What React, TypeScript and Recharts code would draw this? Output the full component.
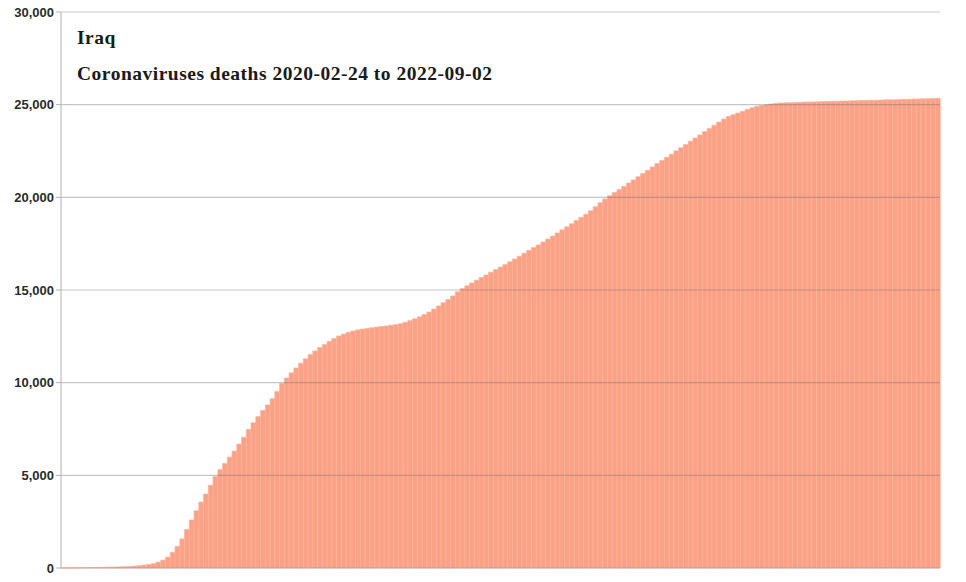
import { BarChart, Bar, XAxis, YAxis, ReferenceLine } from "recharts";

const START = "2020-02-24";
const END = "2022-09-02";
const COUNTRY = "Iraq";
const STEP_DAYS = 5;

// cumulative deaths, one value every 5 days from START
const deaths = [
  1, 4, 7, 10, 14, 18, 22, 27, 32, 39,
  46, 53, 61, 72, 85, 105, 127, 160, 192, 240,
  320, 425, 590, 850, 1170, 1570, 2080, 2590, 3090, 3560,
  3990, 4470, 4930, 5310, 5640, 5980, 6310, 6690, 7060, 7480,
  7840, 8170, 8500, 8800, 9140, 9530, 9960, 10250, 10530, 10790,
  11050, 11290, 11520, 11710, 11900, 12060, 12230, 12380, 12520, 12620,
  12720, 12790, 12850, 12890, 12930, 12960, 13000, 13030, 13060, 13100,
  13140, 13180, 13260, 13350, 13450, 13550, 13680, 13810, 13970, 14140,
  14310, 14490, 14680, 14900, 15080, 15230, 15380, 15530, 15670, 15810,
  15960, 16100, 16240, 16380, 16520, 16670, 16820, 16980, 17140, 17290,
  17430, 17590, 17750, 17910, 18080, 18250, 18410, 18580, 18750, 18920,
  19090, 19280, 19490, 19710, 19910, 20090, 20260, 20420, 20600, 20770,
  20940, 21110, 21290, 21460, 21640, 21820, 21990, 22160, 22330, 22510,
  22680, 22850, 23020, 23200, 23370, 23550, 23720, 23890, 24060, 24220,
  24370, 24460, 24550, 24640, 24750, 24840, 24910, 24960, 25000, 25040,
  25070, 25090, 25100, 25110, 25120, 25130, 25140, 25145, 25150, 25160,
  25165, 25170, 25180, 25190, 25195, 25200, 25210, 25215, 25220, 25230,
  25235, 25240, 25250, 25260, 25265, 25270, 25280, 25290, 25295, 25300,
  25310, 25320, 25325, 25330, 25340,
];

const yTicks = [0, 5000, 10000, 15000, 20000, 25000, 30000];

const chartData = deaths.map((v, i) => ({ day: i * STEP_DAYS, deaths: v }));

const fmt = (v: number) => v.toLocaleString("en-US");

const tickStyle = {
  fontSize: 13,
  fontWeight: 700,
  fill: "#2b2b2b",
  fontFamily: "'Liberation Sans', Arial, sans-serif",
};

const titleStyle: React.CSSProperties = {
  position: "absolute",
  left: 77,
  fontFamily: "'Liberation Serif', serif",
  fontWeight: 700,
  fontSize: 19.5,
  letterSpacing: 0.5,
  color: "#1a1a1a",
  whiteSpace: "nowrap",
  lineHeight: 1,
};

export default function App() {
  return (
    <div style={{ position: "absolute", left: 0, top: 0, width: 966, height: 582, background: "#fff" }}>
      <BarChart
        width={966}
        height={582}
        data={chartData}
        margin={{ top: 12, right: 26, bottom: 14, left: 0 }}
        barCategoryGap={0}
        barGap={0}
      >
        <XAxis
          dataKey="day"
          height={0}
          tick={false}
          tickLine={false}
          axisLine={{ stroke: "#b0b0b0" }}
        />
        <YAxis
          yAxisId="l"
          width={61}
          domain={[0, 30000]}
          ticks={yTicks}
          tickFormatter={fmt}
          tick={tickStyle}
          tickSize={5}
          tickLine={{ stroke: "#b0b0b0" }}
          axisLine={{ stroke: "#b0b0b0" }}
          interval={0}
        />
        <YAxis
          yAxisId="r"
          orientation="right"
          width={0}
          domain={[0, 30000]}
          tick={false}
          tickLine={false}
          axisLine={{ stroke: "#c8c8c8" }}
        />
        <Bar
          yAxisId="l"
          dataKey="deaths"
          fill="#FBA186"
          stroke="#FDB69D"
          strokeWidth={0.7}
          isAnimationActive={false}
        />
        {yTicks.map((t) => (
          <ReferenceLine
            key={t}
            yAxisId="l"
            y={t}
            stroke="#707070"
            strokeOpacity={0.4}
            strokeWidth={1.2}
          />
        ))}
      </BarChart>
      <div style={{ ...titleStyle, top: 28 }}>{COUNTRY}</div>
      <div style={{ ...titleStyle, top: 64 }}>
        Coronaviruses deaths {START} to {END}
      </div>
    </div>
  );
}
